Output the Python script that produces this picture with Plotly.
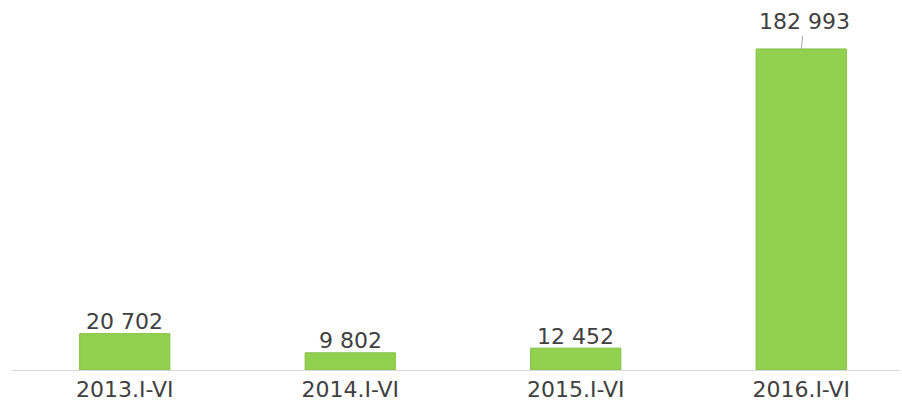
import plotly.graph_objects as go

categories = ["2013.I-VI", "2014.I-VI", "2015.I-VI", "2016.I-VI"]
values = [20702, 9802, 12452, 182993]

labels = [f"{v:,}".replace(",", " ") for v in values]
xs = list(range(len(categories)))

FONT = "DejaVu Sans"
TXT = "#404040"
FS = 22

fig = go.Figure()
fig.add_trace(go.Bar(
    x=xs, y=values, width=0.40,
    marker=dict(color="#92d050", line=dict(color="#80c040", width=1)),
    hoverinfo="skip",
))

for i, (x, v, t) in enumerate(zip(xs, values, labels)):
    if i == len(values) - 1:
        fig.add_annotation(x=x, y=v, text=t, showarrow=True, ax=3, ay=-27,
                           arrowhead=0, arrowwidth=1, arrowcolor="#a6a6a6",
                           standoff=0, font=dict(family=FONT, size=FS, color=TXT))
    else:
        fig.add_annotation(x=x, y=v, text=t, showarrow=False, yanchor="middle",
                           yshift=12, font=dict(family=FONT, size=FS, color=TXT))

fig.update_layout(
    width=902, height=401,
    margin=dict(l=12, r=2, t=20, b=31, autoexpand=False),
    plot_bgcolor="white", paper_bgcolor="white",
    showlegend=False,
    xaxis=dict(range=[-0.5, 3.438], tickvals=xs, ticktext=categories,
               automargin=False,
               showgrid=False, zeroline=False, showline=True,
               linecolor="#d9d9d9", linewidth=1, ticks="",
               tickfont=dict(family=FONT, size=FS, color=TXT)),
    yaxis=dict(range=[0, 199500], visible=False, showgrid=False, zeroline=False,
               automargin=False),
)

fig.write_html("out.html", config={"displayModeBar": False},
               post_script="document.body.style.margin='0';document.body.style.overflow='hidden';")
